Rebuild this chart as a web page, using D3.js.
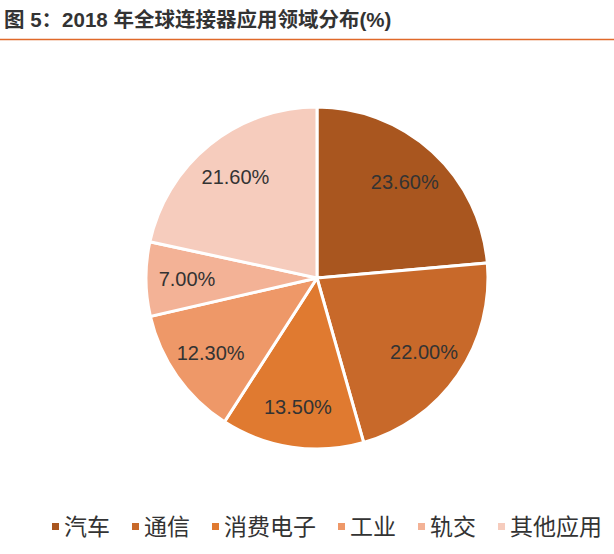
<!DOCTYPE html><html><head><meta charset="utf-8">
<script src="https://cdn.jsdelivr.net/npm/d3@7"></script>
<style>body{margin:0;background:#fff}svg{display:block}</style></head><body>
<script>
const categories=["汽车","通信","消费电子","工业","轨交","其他应用"];
const values=[23.6,22.0,13.5,12.3,7.0,21.6];
const labels=["23.60%","22.00%","13.50%","12.30%","7.00%","21.60%"];
const colors=["#A9561F","#C8692A","#E07A30","#EE9868","#F3B296","#F6CCBD"];
const W=614,H=554,cx=317,cy=278,r=171;
const svg=d3.select("body").append("svg").attr("width",W).attr("height",H);
const font="'Liberation Sans','Noto Sans CJK SC',sans-serif";
svg.append("text").attr("x",4).attr("y",27).attr("font-family",font).attr("font-weight","bold").attr("font-size",20.5).attr("fill","#333").text("图 5：2018 年全球连接器应用领域分布(%)");
svg.append("line").attr("x1",0).attr("x2",W).attr("y1",39.5).attr("y2",39.5).attr("stroke","#E0692A").attr("stroke-width",1.5);
const pie=d3.pie().sort(null).value(d=>d)(values);
const arc=d3.arc().innerRadius(0).outerRadius(r);
const lab=d3.arc().innerRadius(r*0.76).outerRadius(r*0.76);
const g=svg.append("g").attr("transform",`translate(${cx},${cy})`);
g.selectAll("path").data(pie).join("path").attr("d",arc).attr("fill",(d,i)=>colors[i]).attr("stroke","#fff").attr("stroke-width",3);
g.selectAll("text").data(pie).join("text").attr("transform",d=>`translate(${lab.centroid(d)})`).attr("text-anchor","middle").attr("dy","0.35em").attr("font-family",font).attr("font-size",20).attr("fill","#333").text((d,i)=>labels[i]);
const lg=svg.append("g").attr("font-family",font).attr("font-size",23).attr("fill","#333");
let x=52;
categories.forEach((c,i)=>{
 lg.append("rect").attr("x",x).attr("y",523).attr("width",7).attr("height",7).attr("fill",colors[i]);
 lg.append("text").attr("x",x+12).attr("y",535).attr("fill","#333").text(c);
 x+=12+c.length*23+22;
});
</script></body></html>
